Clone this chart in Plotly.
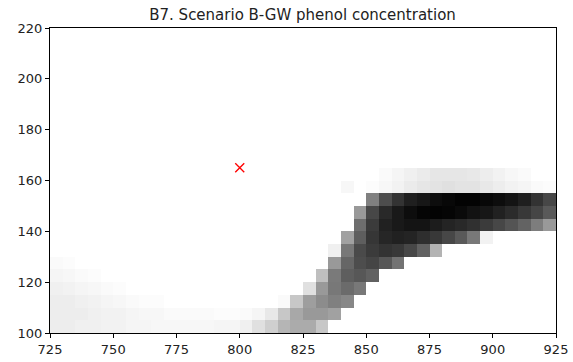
import plotly.graph_objects as go

# Grid (cell edges every 5 units)
x_start, x_end, cell = 725, 925, 5
y_start, y_end = 100, 220

# Phenol concentration (relative, 0 = none, 1 = max) per 5-unit row, columns 725..920
row_100 = [0.07,0.07,0.06,0.06,0.05,0.05,0.04,0.04,0.03,0.03,0.03,0.03,0.03,0.04,0.04,
           0.06,0.12,0.19,0.29,0.33,0.33,0.22] + [0]*18
row_105 = [0.07,0.07,0.07,0.06,0.05,0.05,0.04,0.03,0.03,0.02,0.02,0.02,0.02,0.01,0.01,
           0.02,0.04,0.09,0.22,0.34,0.40,0.40,0.37] + [0]*17
row_110 = [0.07,0.07,0.06,0.05,0.04,0.03,0.02,0.01,0.01,0,0,0,0,0,0,
           0,0,0,0.02,0.22,0.38,0.45,0.50,0.47] + [0]*16
row_115 = [0.06,0.05,0.04,0.03,0.02,0.01] + [0]*9 + [0,0,0,0,0,0.12,0.40,0.53,0.58,0.53] + [0]*15
row_120 = [0.04,0.03,0.02,0.01] + [0]*11 + [0]*6 + [0.25,0.52,0.63,0.66,0.62] + [0]*14
row_125 = [0.02,0.01] + [0]*13 + [0]*7 + [0.40,0.60,0.70,0.73,0.66,0.55] + [0]*12
row_130 = [0]*22 + [0.06,0.53,0.71,0.77,0.80,0.78,0.72,0.62,0.30] + [0]*9
row_135 = [0]*23 + [0.37,0.63,0.79,0.85,0.87,0.86,0.82,0.78,0.72,0.65,0.53,0.05] + [0]*5
row_140 = [0]*24 + [0.57,0.77,0.87,0.90,0.92,0.92,0.89,0.86,0.84,0.81,0.77,0.72,0.67,0.61,0.51,0.40]
row_145 = [0]*24 + [0.40,0.72,0.84,0.90,0.95,0.98,0.99,0.98,0.96,0.93,0.91,0.87,0.83,0.78,0.73,0.65]
row_150 = [0]*25 + [0.50,0.70,0.80,0.88,0.91,0.95,0.97,0.99,0.99,0.97,0.95,0.92,0.88,0.80,0.72]
row_155 = [0]*23 + [0.03,0,0.01] + [0.03,0.05,0.08,0.10,0.11,0.12,0.11,0.11,0.09,0.07,0.05,0.04,0.02,0.01]
row_160 = [0]*26 + [0.02,0.04,0.06,0.08,0.10,0.10,0.10,0.09,0.07,0.05,0.03,0.02,0,0]
empty_row = [0]*40

# Well / source location
well_x = [800]
well_y = [165]

x_ticks = [725, 750, 775, 800, 825, 850, 875, 900, 925]
y_ticks = [100, 120, 140, 160, 180, 200, 220]

rows = [row_100, row_105, row_110, row_115, row_120, row_125, row_130,
        row_135, row_140, row_145, row_150, row_155, row_160]
n_rows = (y_end - y_start) // cell
z = rows + [empty_row] * (n_rows - len(rows))

x_edges = list(range(x_start, x_end + 1, cell))
y_edges = list(range(y_start, y_end + 1, cell))

fig = go.Figure()
fig.add_trace(go.Heatmap(
    z=z, x=x_edges, y=y_edges,
    zmin=0, zmax=1,
    colorscale=[[0, "#ffffff"], [1, "#000000"]],
    showscale=False, zsmooth=False, hoverinfo="skip",
))
fig.add_trace(go.Scatter(
    x=well_x, y=well_y, mode="markers",
    marker=dict(symbol="x-thin", size=9, line=dict(color="red", width=1.4), color="red"),
    showlegend=False,
))

axis_common = dict(
    showgrid=False, zeroline=False, showline=True, linecolor="black", linewidth=1,
    mirror=True, ticks="outside", ticklen=4, tickcolor="black", automargin=False,
    tickfont=dict(family="DejaVu Sans", size=13, color="#222222"),
)
fig.update_xaxes(range=[x_start, x_end], tickvals=x_ticks, **axis_common)
fig.update_yaxes(range=[y_start, y_end], tickvals=y_ticks, **axis_common)

fig.update_layout(
    width=573, height=362,
    margin=dict(l=50, r=17, t=28, b=29),
    paper_bgcolor="white", plot_bgcolor="white",
    title=dict(text="B7. Scenario B-GW phenol concentration", x=0.528, xanchor="center",
               y=0.96, yanchor="middle",
               font=dict(family="DejaVu Sans", size=15, color="#222222")),
    showlegend=False,
)

fig.write_html("out.html")
